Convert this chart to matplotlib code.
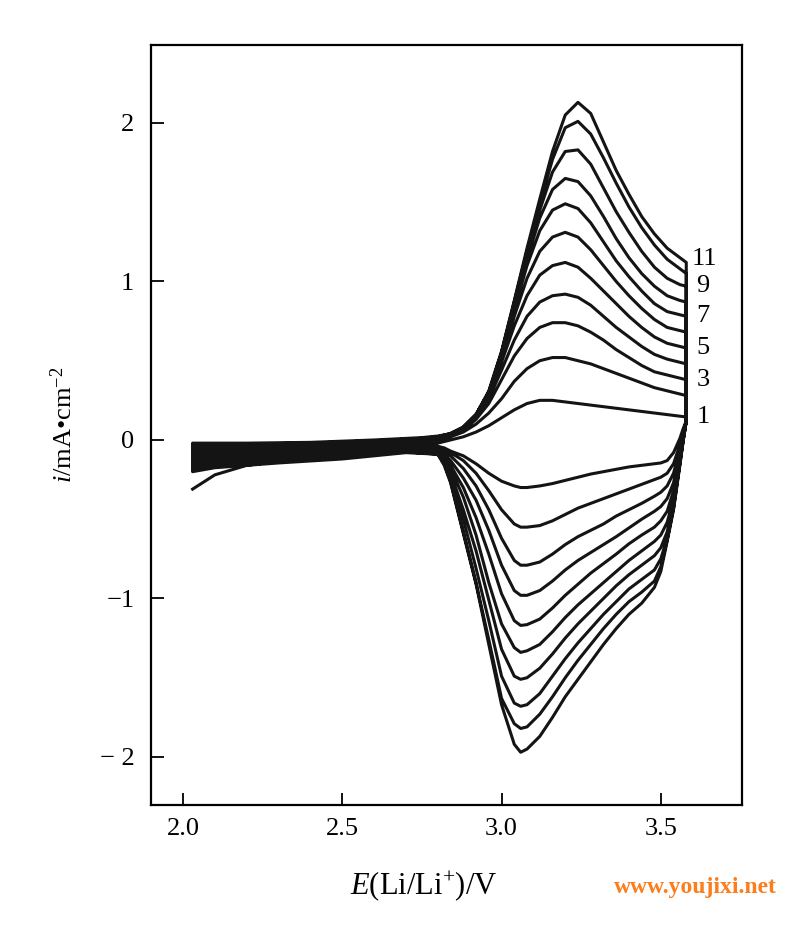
import numpy as np
import matplotlib.pyplot as plt

plt.rcParams['font.family'] = ['Liberation Serif', 'DejaVu Serif']
plt.rcParams['mathtext.fontset'] = 'custom'
plt.rcParams['mathtext.rm'] = 'Liberation Serif'
plt.rcParams['mathtext.it'] = 'Liberation Serif:italic'

# 正扫 (anodic) 电位网格, V
E_an = [2.03, 2.10, 2.20, 2.40, 2.60, 2.75, 2.80, 2.84, 2.88, 2.92, 2.96, 3.00, 3.04,
        3.08, 3.12, 3.16, 3.20, 3.24, 3.28, 3.32, 3.36, 3.40, 3.44, 3.48, 3.52, 3.56, 3.58]

# 各圈正扫电流, mA/cm2 (第1圈 ... 第11圈)
i_an = [
    [-0.31, -0.22, -0.16, -0.11, -0.07, -0.035, -0.02, 0.0, 0.02, 0.05, 0.09, 0.14, 0.19, 0.23, 0.25, 0.25, 0.24, 0.23, 0.22, 0.21, 0.20, 0.19, 0.18, 0.17, 0.16, 0.15, 0.145],
    [-0.11, -0.09, -0.08, -0.06, -0.04, -0.02, -0.01, 0.02, 0.05, 0.10, 0.17, 0.26, 0.37, 0.45, 0.50, 0.52, 0.52, 0.50, 0.48, 0.45, 0.42, 0.39, 0.36, 0.33, 0.31, 0.29, 0.28],
    [-0.10, -0.085, -0.075, -0.055, -0.035, -0.015, -0.005, 0.03, 0.06, 0.13, 0.23, 0.38, 0.53, 0.64, 0.71, 0.74, 0.74, 0.72, 0.68, 0.63, 0.57, 0.52, 0.47, 0.43, 0.41, 0.39, 0.38],
    [-0.09, -0.08, -0.07, -0.05, -0.03, -0.01, 0.0, 0.03, 0.07, 0.14, 0.26, 0.44, 0.63, 0.78, 0.87, 0.91, 0.92, 0.90, 0.85, 0.78, 0.71, 0.65, 0.59, 0.54, 0.51, 0.49, 0.48],
    [-0.08, -0.07, -0.06, -0.045, -0.025, -0.005, 0.005, 0.03, 0.07, 0.15, 0.28, 0.49, 0.72, 0.91, 1.04, 1.10, 1.12, 1.09, 1.02, 0.94, 0.86, 0.78, 0.71, 0.65, 0.61, 0.59, 0.58],
    [-0.07, -0.06, -0.05, -0.04, -0.02, 0.0, 0.01, 0.04, 0.08, 0.15, 0.29, 0.51, 0.78, 1.02, 1.19, 1.28, 1.31, 1.28, 1.20, 1.10, 1.00, 0.91, 0.83, 0.76, 0.71, 0.69, 0.68],
    [-0.06, -0.05, -0.045, -0.035, -0.015, 0.0, 0.01, 0.04, 0.08, 0.16, 0.30, 0.53, 0.82, 1.10, 1.32, 1.45, 1.49, 1.46, 1.37, 1.25, 1.13, 1.03, 0.94, 0.86, 0.81, 0.79, 0.78],
    [-0.05, -0.045, -0.04, -0.03, -0.01, 0.005, 0.015, 0.04, 0.08, 0.16, 0.30, 0.54, 0.84, 1.14, 1.40, 1.58, 1.65, 1.63, 1.54, 1.41, 1.27, 1.15, 1.05, 0.97, 0.91, 0.88, 0.87],
    [-0.04, -0.035, -0.03, -0.025, -0.01, 0.01, 0.02, 0.04, 0.08, 0.16, 0.30, 0.55, 0.86, 1.17, 1.45, 1.69, 1.82, 1.83, 1.74, 1.59, 1.44, 1.31, 1.19, 1.09, 1.02, 0.98, 0.97],
    [-0.03, -0.03, -0.025, -0.02, -0.005, 0.01, 0.02, 0.04, 0.08, 0.16, 0.30, 0.55, 0.87, 1.19, 1.49, 1.77, 1.97, 2.01, 1.93, 1.78, 1.62, 1.47, 1.34, 1.23, 1.14, 1.08, 1.05],
    [-0.02, -0.02, -0.02, -0.015, 0.0, 0.015, 0.025, 0.04, 0.08, 0.16, 0.31, 0.56, 0.88, 1.21, 1.52, 1.82, 2.05, 2.13, 2.06, 1.88, 1.70, 1.55, 1.41, 1.30, 1.21, 1.15, 1.12],
]

# 负扫 (cathodic) 电位网格, V
E_ca = [3.58, 3.57, 3.56, 3.54, 3.52, 3.50, 3.48, 3.44, 3.40, 3.36, 3.32, 3.28, 3.24, 3.20, 3.16,
        3.12, 3.08, 3.06, 3.04, 3.00, 2.96, 2.92, 2.88, 2.84, 2.82, 2.80, 2.70, 2.50, 2.30, 2.10, 2.03]

i_ca = [
    [0.12, 0.07, 0.01, -0.08, -0.13, -0.145, -0.15, -0.16, -0.17, -0.185, -0.20, -0.215, -0.235, -0.255, -0.275, -0.29, -0.30, -0.30, -0.29, -0.26, -0.21, -0.15, -0.10, -0.07, -0.05, -0.04, -0.035, -0.05, -0.07, -0.10, -0.11],
    [0.12, 0.05, -0.03, -0.15, -0.21, -0.235, -0.25, -0.28, -0.31, -0.34, -0.37, -0.40, -0.43, -0.47, -0.51, -0.54, -0.55, -0.55, -0.53, -0.44, -0.32, -0.21, -0.13, -0.08, -0.06, -0.05, -0.04, -0.06, -0.08, -0.11, -0.12],
    [0.12, 0.04, -0.06, -0.21, -0.29, -0.33, -0.355, -0.40, -0.44, -0.48, -0.53, -0.57, -0.61, -0.66, -0.72, -0.77, -0.79, -0.79, -0.76, -0.62, -0.44, -0.29, -0.18, -0.10, -0.08, -0.06, -0.045, -0.065, -0.09, -0.12, -0.13],
    [0.12, 0.03, -0.08, -0.27, -0.37, -0.42, -0.45, -0.50, -0.555, -0.61, -0.66, -0.71, -0.76, -0.82, -0.89, -0.95, -0.98, -0.98, -0.95, -0.79, -0.57, -0.38, -0.24, -0.13, -0.09, -0.06, -0.05, -0.075, -0.10, -0.13, -0.14],
    [0.12, 0.02, -0.10, -0.32, -0.45, -0.51, -0.55, -0.60, -0.655, -0.72, -0.78, -0.84, -0.91, -0.98, -1.06, -1.13, -1.165, -1.17, -1.14, -0.97, -0.72, -0.49, -0.30, -0.16, -0.11, -0.07, -0.055, -0.08, -0.105, -0.14, -0.15],
    [0.12, 0.01, -0.12, -0.37, -0.52, -0.60, -0.64, -0.70, -0.76, -0.83, -0.90, -0.97, -1.04, -1.12, -1.21, -1.29, -1.33, -1.34, -1.31, -1.16, -0.90, -0.60, -0.36, -0.18, -0.12, -0.07, -0.06, -0.09, -0.115, -0.15, -0.16],
    [0.12, 0.0, -0.13, -0.40, -0.58, -0.68, -0.73, -0.79, -0.85, -0.92, -1.00, -1.08, -1.16, -1.25, -1.35, -1.44, -1.50, -1.51, -1.49, -1.32, -1.01, -0.70, -0.44, -0.21, -0.13, -0.08, -0.065, -0.095, -0.12, -0.155, -0.17],
    [0.12, 0.0, -0.14, -0.42, -0.62, -0.75, -0.82, -0.88, -0.94, -1.02, -1.10, -1.19, -1.28, -1.38, -1.49, -1.60, -1.67, -1.68, -1.66, -1.49, -1.14, -0.81, -0.50, -0.24, -0.14, -0.08, -0.07, -0.10, -0.13, -0.16, -0.18],
    [0.12, -0.01, -0.15, -0.43, -0.63, -0.80, -0.89, -0.96, -1.02, -1.10, -1.19, -1.29, -1.39, -1.50, -1.62, -1.73, -1.81, -1.82, -1.79, -1.63, -1.26, -0.90, -0.58, -0.26, -0.15, -0.09, -0.075, -0.11, -0.135, -0.17, -0.19],
    [0.12, -0.01, -0.16, -0.44, -0.64, -0.83, -0.93, -1.03, -1.10, -1.19, -1.29, -1.40, -1.51, -1.62, -1.75, -1.87, -1.95, -1.97, -1.92, -1.67, -1.29, -0.91, -0.59, -0.27, -0.16, -0.09, -0.08, -0.12, -0.145, -0.175, -0.20],
]

cycle_labels = ['1', '3', '5', '7', '9', '11']
label_cycles = [1, 3, 5, 7, 9, 11]

fig = plt.figure(figsize=(7.97, 9.25), dpi=100)
ax = fig.add_axes([0.1895, 0.1297, 0.7415, 0.8217])

# 把各圈连成一条连续的曲线（换向处为竖直段）
xs, ys = [], []
for k in range(len(i_an)):
    xs += E_an
    ys += i_an[k]
    if k < len(i_ca):
        xs += E_ca
        ys += i_ca[k]
# 最后一圈在 3.58 V 处换向
xs.append(E_ca[0])
ys.append(i_ca[-1][0])
ax.plot(xs, ys, '-', color='#141414', linewidth=2.2, solid_joinstyle='round')

for lab, c in zip(cycle_labels, label_cycles):
    if lab == '11':
        ax.text(3.596, i_an[c - 1][-1] + 0.02, lab, fontsize=19, ha='left', va='center')
    else:
        ax.text(3.633, i_an[c - 1][-1], lab, fontsize=19, ha='center', va='center')

ax.set_xlim(1.8995, 3.755)
ax.set_ylim(-2.303, 2.492)
ax.set_xticks([2.0, 2.5, 3.0, 3.5])
ax.set_xticklabels(['2.0', '2.5', '3.0', '3.5'])
ax.set_yticks([-2, -1, 0, 1, 2])
ax.set_yticklabels(['\u2212 2', '\u22121', '0', '1', '2'])
ax.tick_params(direction='in', length=9, width=1.3, labelsize=19, pad=9)
ax.tick_params(axis='y', pad=12)
for s in ax.spines.values():
    s.set_linewidth(1.6)

ax.set_xlabel('$E$(Li/Li$^{+}$)/V', fontsize=22)
ax.xaxis.set_label_coords(0.462, -0.085)
ax.set_ylabel('$i$/mA\u2022cm$^{-2}$', fontsize=19, labelpad=16)

fig.text(0.975, 0.041, 'www.youjixi.net', color='#fb7d1c', fontsize=17,
         fontweight='bold', ha='right', va='center')

fig.savefig('out.png', dpi=100)
